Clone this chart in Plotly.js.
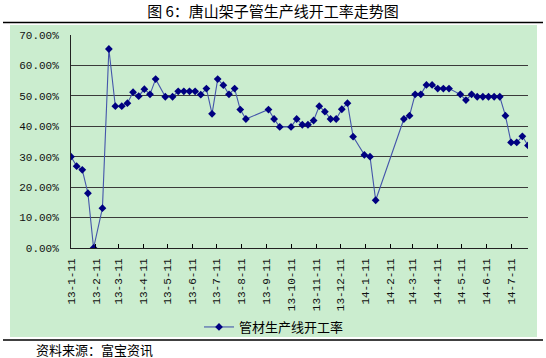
<!DOCTYPE html>
<html>
<head>
<meta charset="utf-8">
<script src="https://cdn.plot.ly/plotly-3.0.1.min.js"></script>
<style>
html,body{margin:0;padding:0;background:#fff;}
#chart{width:546px;height:358px;}
</style>
</head>
<body>
<div id="chart"></div>
<script>
// Data
const dates = [
 '2013-01-11','2013-01-18','2013-01-25','2013-02-01','2013-02-08','2013-02-19','2013-02-27','2013-03-07','2013-03-15','2013-03-22',
 '2013-03-29','2013-04-05','2013-04-12','2013-04-19','2013-04-26','2013-05-08','2013-05-17','2013-05-24','2013-05-31','2013-06-07',
 '2013-06-14','2013-06-21','2013-06-28','2013-07-05','2013-07-12','2013-07-19','2013-07-26','2013-08-02','2013-08-09','2013-08-16',
 '2013-09-13','2013-09-20','2013-09-27','2013-10-11','2013-10-18','2013-10-25','2013-11-01','2013-11-08','2013-11-15','2013-11-22',
 '2013-11-29','2013-12-06','2013-12-13','2013-12-20','2013-12-27','2014-01-10','2014-01-17','2014-01-24','2014-02-28','2014-03-07',
 '2014-03-14','2014-03-21','2014-03-28','2014-04-04','2014-04-11','2014-04-18','2014-04-25','2014-05-09','2014-05-16','2014-05-23',
 '2014-05-30','2014-06-06','2014-06-13','2014-06-20','2014-06-27','2014-07-04','2014-07-11','2014-07-18','2014-07-25','2014-08-01'
];
const rates = [
 30.0,26.9,25.7,18.0,0.0,13.1,65.4,46.6,46.6,47.6,
 51.2,49.9,52.2,50.5,55.5,49.7,49.7,51.5,51.5,51.5,
 51.5,50.4,52.4,44.1,55.5,53.5,50.5,52.4,45.5,42.4,
 45.5,42.4,39.8,39.8,42.4,40.5,40.5,41.9,46.6,44.8,
 42.4,42.4,45.6,47.6,36.6,30.6,30.0,15.7,42.4,43.5,
 50.5,50.5,53.6,53.6,52.4,52.4,52.4,50.5,48.6,50.5,
 49.7,49.7,49.7,49.7,49.7,43.5,34.7,34.7,36.7,33.7
];
const tickDates = ['2013-01-11','2013-02-11','2013-03-11','2013-04-11','2013-05-11','2013-06-11','2013-07-11','2013-08-11','2013-09-11','2013-10-11',
 '2013-11-11','2013-12-11','2014-01-11','2014-02-11','2014-03-11','2014-04-11','2014-05-11','2014-06-11','2014-07-11'];
const tickLabels = ['13-1-11','13-2-11','13-3-11','13-4-11','13-5-11','13-6-11','13-7-11','13-8-11','13-9-11','13-10-11',
 '13-11-11','13-12-11','14-1-11','14-2-11','14-3-11','14-4-11','14-5-11','14-6-11','14-7-11'];
const seriesName = '管材生产线开工率';
const titleText = '图 6：唐山架子管生产线开工率走势图';
const sourceText = '资料来源：富宝资讯';

const W = 546, H = 358;
const L = 71, R = 528, T = 35, B = 248;
const pw = R - L, ph = B - T;
const px = v => (v - L) / pw;
const py = v => (B - v) / ph;

const green = '#cbedcf';
const trace = {
  x: dates, y: rates, type: 'scatter', mode: 'lines+markers', name: seriesName,
  line: {color: '#4455aa', width: 1.1},
  marker: {symbol: 'diamond', size: 6, color: '#000080'}
};

const layout = {
  width: W, height: H,
  margin: {l: L, r: W - R, t: T, b: H - B, pad: 0},
  paper_bgcolor: '#ffffff',
  plot_bgcolor: green,
  showlegend: true,
  title: {text: titleText, x: 0.5, xref: 'container', xanchor: 'center', y: 1 - 12/H, yref: 'container', yanchor: 'middle',
          font: {family: 'Noto Sans CJK SC', size: 15, color: '#000'}},
  xaxis: {
    type: 'date', range: [dates[0], dates[dates.length-1]],
    tickmode: 'array', tickvals: tickDates, ticktext: tickLabels,
    tickangle: -90, ticks: 'inside', ticklen: 4, tickcolor: '#000',
    showline: true, linecolor: '#222', linewidth: 1,
    showgrid: false, zeroline: false,
    ticklabelstandoff: 5,
    tickfont: {family: 'Liberation Mono', size: 11, color: '#111'}
  },
  yaxis: {
    range: [0, 70], dtick: 10, tick0: 0,
    tickformat: '.2f', ticksuffix: '%',
    showgrid: true, gridcolor: '#3a3a3a', gridwidth: 1,
    showline: true, linecolor: '#222', linewidth: 1,
    zeroline: false, ticks: '',
    ticklabelstandoff: 9,
    tickfont: {family: 'Liberation Mono', size: 11, color: '#111'}
  },
  legend: {
    orientation: 'h', x: px(274), xanchor: 'center', y: py(327), yanchor: 'middle',
    bgcolor: 'rgba(0,0,0,0)', font: {family: 'Noto Sans CJK SC', size: 13, color: '#000'},
    itemwidth: 30
  },
  shapes: [
    {type: 'rect', xref: 'paper', yref: 'paper', x0: px(10), x1: px(537), y0: py(337), y1: py(25),
     fillcolor: green, line: {width: 0}, layer: 'below'},
    {type: 'line', xref: 'paper', yref: 'paper', x0: px(3), x1: px(543), y0: py(22.5), y1: py(22.5),
     line: {color: '#000', width: 1.5}},
    {type: 'line', xref: 'paper', yref: 'paper', x0: px(3), x1: px(543), y0: py(340), y1: py(340),
     line: {color: '#000', width: 1.5}}
  ],
  annotations: [
    {text: sourceText, xref: 'paper', yref: 'paper', x: px(34), y: py(349), xanchor: 'left', yanchor: 'middle',
     showarrow: false, font: {family: 'Noto Sans CJK SC', size: 13, color: '#000'}}
  ]
};

Plotly.newPlot('chart', [trace], layout, {displayModeBar: false, staticPlot: true});
</script>
</body>
</html>
